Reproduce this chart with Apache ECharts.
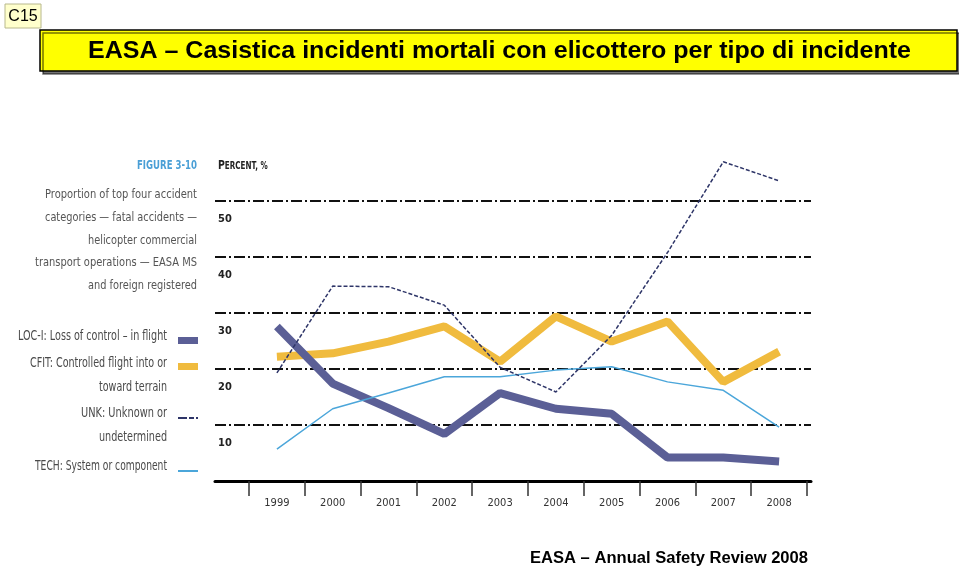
<!DOCTYPE html>
<html><head><meta charset="utf-8">
<script src="https://cdn.jsdelivr.net/npm/echarts@6/dist/echarts.min.js"></script>
<style>html,body{margin:0;padding:0;background:#fff}#c{width:959px;height:571px}</style>
</head><body><div id="c"></div>
<script>
const years = ['1999','2000','2001','2002','2003','2004','2005','2006','2007','2008'];
const locI = [27.6, 17.4, 13.0, 8.4, 15.7, 12.9, 12.0, 4.2, 4.2, 3.5];
const cfit = [22.2, 22.8, 24.9, 27.6, 21.3, 29.4, 24.9, 28.5, 17.7, 23.1];
const unk  = [19.3, 34.8, 34.7, 31.4, 20.3, 15.9, 26.0, 40.8, 57.0, 53.6];
const tech = [5.7, 12.9, 15.7, 18.6, 18.6, 19.8, 20.4, 17.7, 16.2, 9.6];
const yTickLabels = [10, 20, 30, 40, 50];
const seriesNames = ['LOC-I', 'CFIT', 'UNK', 'TECH'];
const legendTexts = [
  ['LOC-I: Loss of control – in flight'],
  ['CFIT: Controlled flight into or', 'toward terrain'],
  ['UNK: Unknown or', 'undetermined'],
  ['TECH: System or component']
];
const figureNote = ['Proportion of top four accident', 'categories — fatal accidents —', 'helicopter commercial', 'transport operations — EASA MS', 'and foreign registered'];

const NARROW = "'Liberation Sans Narrow','DejaVu Sans Condensed','Roboto Condensed','Liberation Sans',sans-serif";
const cv = document.createElement('canvas').getContext('2d');
function fitText(text, font, x, y, width, fill, align) {
  cv.font = font;
  const w = cv.measureText(text).width;
  const s = width / w;
  return {type:'group', x: x, y: y, scaleX: s, children:[
    {type:'text', style:{text:text, font:font, fill:fill, align: align || 'right', verticalAlign:'middle'}}
  ]};
}
const gFont = "13px " + NARROW;
const graphics = [
  {type:'rect', shape:{x:5,y:4,width:36,height:24}, style:{fill:'#ffffcc', stroke:'#b8b88c', lineWidth:1}},
  {type:'text', x:23, y:17, style:{text:'C15', font:"16px 'Liberation Sans', Arial, sans-serif", fill:'#000', align:'center', verticalAlign:'middle'}},
  {type:'rect', shape:{x:40,y:30,width:917,height:41}, style:{fill:'#ffff00', stroke:'#000', lineWidth:1.5, shadowColor:'rgba(0,0,0,0.55)', shadowOffsetX:3, shadowOffsetY:3, shadowBlur:0}},
  fitText('EASA – Casistica incidenti mortali con elicottero per tipo di incidente', "bold 24px 'Liberation Sans', Arial, sans-serif", 88, 51, 823, '#000', 'left'),
  fitText('EASA – Annual Safety Review 2008', "bold 16px 'Liberation Sans', Arial, sans-serif", 530, 559, 278, '#000', 'left'),
  fitText('FIGURE 3-10', "bold 12px " + NARROW, 197, 166, 60, '#4a9fd6'),
  {type:'group', x:218, y:166, scaleX:0.8, children:[
    {type:'text', style:{text:'{a|P}{b|ERCENT, %}', rich:{a:{font:"bold 13px " + NARROW, fill:'#222'}, b:{font:"bold 10px " + NARROW, fill:'#222'}}, verticalAlign:'middle', align:'left'}}
  ]}
];
const noteW = [152, 152, 109, 162, 109];
const noteY = [195, 218, 241, 263, 286];
figureNote.forEach((t, i) => graphics.push(fitText(t, gFont, 197, noteY[i], noteW[i], '#555')));
const legW = [[149], [137, 68], [86, 68], [132]];
const legY = [[336], [363, 387], [413, 437], [466]];
legendTexts.forEach((arr, i) => arr.forEach((t, j) => graphics.push(fitText(t, "14px " + NARROW, 167, legY[i][j], legW[i][j], '#4a4a4a'))));

const colors = {'LOC-I':'#5b5f96', 'CFIT':'#f0bb3e', 'UNK':'#2e3568', 'TECH':'#4ba6da'};
const legendIcons = ['rect', 'rect', 'path://M0,0h9v2h-9zM11,0h5v2h-5zM18,0h2v2h-2z', 'rect'];
const iconTop = [337, 363, 417, 470];
const iconH = [7, 7, 2, 2];
const legends = seriesNames.map((n, i) => ({
  data: [{name: n, icon: legendIcons[i]}],
  right: 761, top: iconTop[i], itemWidth: 20, itemHeight: iconH[i],
  formatter: () => '', selectedMode: false, itemGap: 0, padding: 0,
  textStyle: {fontSize: 14, padding: 0}
}));

const option = {
  animation: false,
  backgroundColor: '#fff',
  graphic: graphics,
  legend: legends,
  grid: [
    {left: 215, right: 148, top: 145, bottom: 90},
    {left: 249, right: 152, top: 145, bottom: 90}
  ],
  xAxis: [
    {gridIndex: 0, type: 'category', data: years, axisLine: {show: true, lineStyle: {color: '#000', width: 3}}, axisTick: {show: false}, axisLabel: {show: false}, splitLine: {show: false}},
    {gridIndex: 1, type: 'category', data: years, boundaryGap: true, offset: 15,
     axisLine: {show: false}, axisTick: {show: true, length: 15, lineStyle: {color: '#333', width: 1.5}},
     axisLabel: {margin: 2, color: '#333', fontSize: 11, fontFamily: NARROW, verticalAlign: 'top'}}
  ],
  yAxis: [
    {gridIndex: 0, type: 'value', min: 0, max: 60, interval: 10,
     axisLine: {show: false}, axisTick: {show: false},
     axisLabel: {inside: true, margin: 3, verticalAlign: 'top', padding: [13, 0, 0, 0], color: '#222', fontWeight: 'bold', fontSize: 11, fontFamily: NARROW,
       formatter: v => yTickLabels.indexOf(v) >= 0 ? String(v) : ''},
     splitLine: {show: true, showMinLine: false, showMaxLine: false, lineStyle: {color: '#111', width: 2, type: [11, 3, 2, 3]}}},
    {gridIndex: 1, type: 'value', min: 0, max: 60, interval: 10, show: false, splitLine: {show: false}}
  ],
  series: [
    {name: 'CFIT', type: 'line', xAxisIndex: 1, yAxisIndex: 1, data: cfit, symbol: 'none', lineStyle: {color: colors.CFIT, width: 8}, itemStyle: {color: colors.CFIT}, z: 3},
    {name: 'LOC-I', type: 'line', xAxisIndex: 1, yAxisIndex: 1, data: locI, symbol: 'none', lineStyle: {color: colors['LOC-I'], width: 8}, itemStyle: {color: colors['LOC-I']}, z: 4},
    {name: 'TECH', type: 'line', xAxisIndex: 1, yAxisIndex: 1, data: tech, symbol: 'none', lineStyle: {color: colors.TECH, width: 1.5}, itemStyle: {color: colors.TECH}, z: 5},
    {name: 'UNK', type: 'line', xAxisIndex: 1, yAxisIndex: 1, data: unk, symbol: 'none', lineStyle: {color: colors.UNK, width: 1.5, type: [4, 2]}, itemStyle: {color: colors.UNK}, z: 6}
  ]
};
const chart = echarts.init(document.getElementById('c'), null, {renderer: 'canvas'});
chart.setOption(option);
</script></body></html>
